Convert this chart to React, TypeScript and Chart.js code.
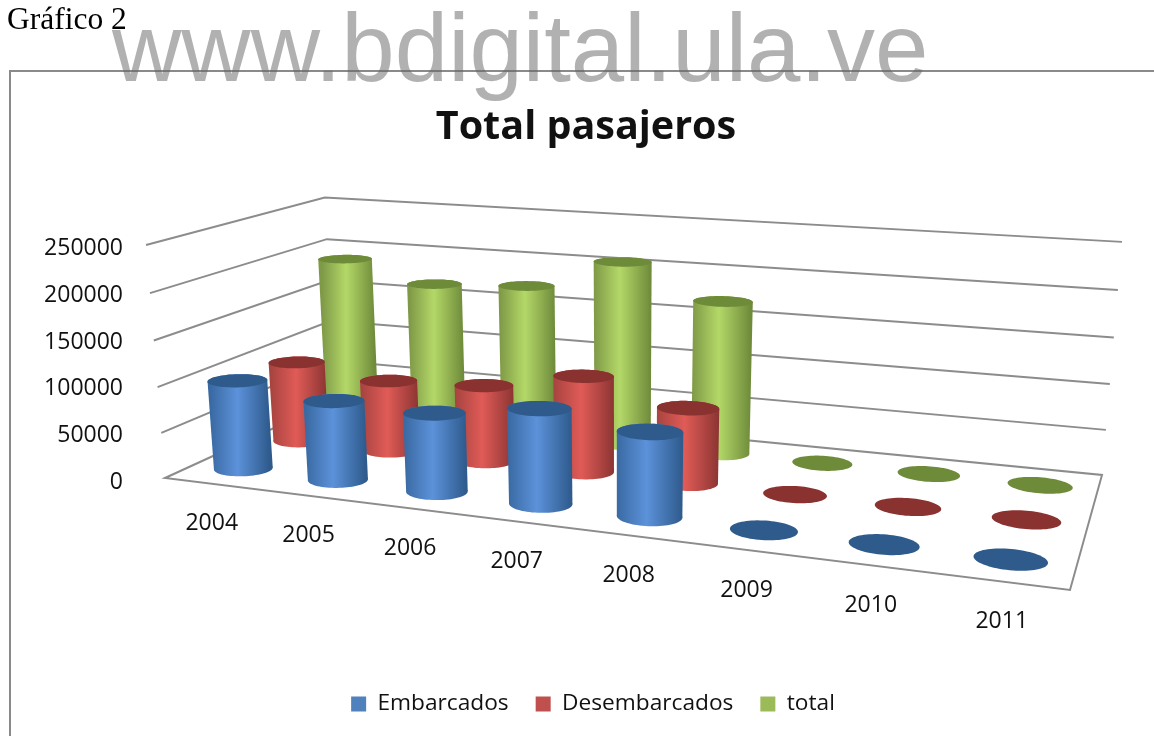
import React, { useEffect, useRef } from "react";
import { Chart, registerables } from "chart.js";

Chart.register(...registerables);

const categories = ["2004", "2005", "2006", "2007", "2008", "2009", "2010", "2011"];
const embarcados = [98000, 86500, 84500, 100500, 88000, 0, 0, 0];
const desembarcados = [91500, 80000, 85000, 105500, 81500, 0, 0, 0];
const total = [189000, 167000, 172500, 207000, 171000, 0, 0, 0];
const yTickStep = 50000;
const yMax = 250000;

const legendColors = ["#4F81BD", "#C0504D", "#9BBB59"];
const capColors = ["#2F5A8C", "#8A3230", "#6E8B3A"];
const bodyStops = [
  ["#3A6AA3", "#5C92DA", "#2E5A8C"],
  ["#A84440", "#E05B57", "#8C3533"],
  ["#7F9A47", "#B4D868", "#6E8A3A"],
];
const FONT = "'Open Sans', 'Noto Sans', sans-serif";

// Frame of the 3D box (front-left, front-right, back-right, back-left floor corners)
const p0 = [165, 478], p1 = [1070, 590], p2 = [1102, 475], p3 = [335, 400];
const vanish = [621, 6078];
const frontLeftTopY = 245;
const heightSlopeU = -0.16, heightSlopeV = 0.16;
const spacingBend = 0.02;

function makeProjector() {
  const sx = p0[0] - p1[0] + p2[0] - p3[0], sy = p0[1] - p1[1] + p2[1] - p3[1];
  const dx1 = p1[0] - p2[0], dx2 = p3[0] - p2[0], dy1 = p1[1] - p2[1], dy2 = p3[1] - p2[1];
  const den = dx1 * dy2 - dx2 * dy1;
  const g = (sx * dy2 - dx2 * sy) / den, h = (dx1 * sy - sx * dy1) / den;
  const a = p1[0] - p0[0] + g * p1[0], b = p3[0] - p0[0] + h * p3[0], c = p0[0];
  const d = p1[1] - p0[1] + g * p1[1], e = p3[1] - p0[1] + h * p3[1], f = p0[1];
  const C = (frontLeftTopY - p0[1]) / (vanish[1] - frontLeftTopY);
  return (u: number, v: number, w: number): [number, number] => {
    const z = g * u + h * v + 1;
    const px = (a * u + b * v + c) / z, py = (d * u + e * v + f) / z;
    const zh = 1 + heightSlopeU * u + heightSlopeV * v;
    const t = (w * C) / (zh + w * C);
    return [px + (vanish[0] - px) * t, py + (vanish[1] - py) * t];
  };
}
const project = makeProjector();
const bend = (u: number) => u + spacingBend * u * (1 - u);

const boxPlugin = {
  id: "box3d",
  afterLayout(chart: any) {
    const t = chart.titleBlock;
    if (t) {
      t.top = 128 - t.height / 2;
      t.left += 24; t.right += 24;
    }
    const l = chart.legend;
    if (l) {
      const fs = l.options.labels.font.size;
      l.top = 704 - l.options.labels.padding - fs / 2;
      l.bottom = l.top + l.height;
      l.left += 31; l.right += 31;
    }
  },
  beforeDatasetsDraw(chart: any) {
    const { ctx } = chart;
    const y = chart.scales.y;
    const H = y.getPixelForValue(0) - y.getPixelForValue(yMax);
    ctx.save();
    ctx.strokeStyle = "#8C8C8C";
    ctx.lineWidth = 2;
    ctx.lineJoin = "miter";
    for (const tick of y.ticks) {
      const w = (y.getPixelForValue(0) - y.getPixelForValue(tick.value)) / H;
      ctx.beginPath();
      ctx.moveTo(...project(0, 0, w));
      ctx.lineTo(...project(0, 1, w));
      ctx.lineTo(...project(1, 1, w));
      if (w === 0) {
        ctx.lineTo(...project(1, 0, 0));
        ctx.closePath();
      }
      ctx.stroke();
    }
    ctx.restore();
  },
  beforeDatasetDraw(chart: any, args: any) {
    const { ctx, chartArea } = chart;
    const idx = args.index;
    const meta = chart.getDatasetMeta(idx);
    const y = chart.scales.y;
    const H = y.getPixelForValue(0) - y.getPixelForValue(yMax);
    const depth = (idx + 0.5) / 3;
    const ru = 0.035, rv = 0.08;
    ctx.save();
    meta.data.forEach((el: any) => {
      const u = bend((el.x - chartArea.left) / chartArea.width);
      const w = (el.base - el.y) / H;
      const disc = (ww: number) => {
        const pts: [number, number][] = [];
        for (let k = 0; k < 72; k++) {
          const t = (k / 72) * Math.PI * 2;
          pts.push(project(u + ru * Math.cos(t), depth + rv * Math.sin(t), ww));
        }
        return pts;
      };
      const fillPts = (pts: [number, number][]) => {
        ctx.beginPath();
        pts.forEach((p, i) => (i ? ctx.lineTo(p[0], p[1]) : ctx.moveTo(p[0], p[1])));
        ctx.closePath();
        ctx.fill();
      };
      const top = disc(w);
      if (w > 0) {
        const base = disc(0);
        const ext = (pts: [number, number][]) => {
          let l = pts[0], r = pts[0];
          for (const p of pts) {
            if (p[0] < l[0]) l = p;
            if (p[0] > r[0]) r = p;
          }
          return [l, r];
        };
        const [bl, br] = ext(base);
        const [tl, tr] = ext(top);
        const grad = ctx.createLinearGradient((bl[0] + tl[0]) / 2, 0, (br[0] + tr[0]) / 2, 0);
        const s = bodyStops[idx];
        grad.addColorStop(0, s[0]);
        grad.addColorStop(0.45, s[1]);
        grad.addColorStop(1, s[2]);
        ctx.fillStyle = grad;
        fillPts(base);
        fillPts([tl, bl, br, tr]);
        fillPts(top);
      }
      ctx.fillStyle = capColors[idx];
      fillPts(top);
    });
    ctx.restore();
    return false;
  },
  afterDatasetsDraw(chart: any) {
    const { ctx, chartArea } = chart;
    const x = chart.scales.x;
    ctx.save();
    ctx.font = `23px ${FONT}`;
    ctx.fillStyle = "#111111";
    ctx.textAlign = "center";
    ctx.textBaseline = "middle";
    categories.forEach((label, i) => {
      const u = bend((x.getPixelForValue(i) - chartArea.left) / chartArea.width);
      const p = project(u, 0, 0);
      ctx.fillText(label, p[0], p[1] + 40);
    });
    ctx.restore();
  },
};

export default function App() {
  const ref = useRef<HTMLCanvasElement>(null);
  useEffect(() => {
    document.body.style.margin = "0";
    const chart = new Chart(ref.current!, {
      type: "bar",
      data: {
        labels: categories,
        datasets: [
          { label: "Embarcados", data: embarcados, backgroundColor: legendColors[0], grouped: false } as any,
          { label: "Desembarcados", data: desembarcados, backgroundColor: legendColors[1], grouped: false } as any,
          { label: "total", data: total, backgroundColor: legendColors[2], grouped: false } as any,
        ],
      },
      options: {
        animation: false,
        responsive: false,
        layout: { padding: { top: 201, left: 0, right: 30, bottom: 194 } },
        scales: {
          x: { display: false },
          y: {
            min: 0,
            max: yMax,
            afterFit: (s: any) => { s.width = 123; },
            grid: { display: false, drawTicks: false },
            border: { display: false },
            ticks: {
              stepSize: yTickStep,
              padding: 0,
              color: "#111111",
              font: { family: FONT, size: 23 },
              callback: (v: any) => String(v),
            },
          },
        },
        plugins: {
          title: {
            display: true,
            text: "Total pasajeros",
            color: "#111111",
            padding: 0,
            font: { family: FONT, size: 39.5, weight: "bold" },
          },
          legend: {
            position: "bottom",
            labels: {
              boxWidth: 15,
              boxHeight: 15,
              padding: 27,
              color: "#111111",
              font: { family: FONT, size: 22.7 },
            },
          },
          tooltip: { enabled: false },
        },
      },
      plugins: [boxPlugin],
    } as any);
    return () => chart.destroy();
  }, []);

  return (
    <div style={{ position: "fixed", left: 0, top: 0, width: 1154, height: 736, overflow: "hidden", background: "#fff" }}>
      <div style={{ position: "absolute", left: 9, top: 70, width: 1300, height: 800, borderLeft: "2px solid #8A8A8A", borderTop: "2px solid #8A8A8A" }} />
      <canvas ref={ref} width={1154} height={736} style={{ position: "absolute", left: 0, top: 0, display: "block" }} />
      <div style={{ position: "absolute", left: 7, top: 1, fontFamily: "'Liberation Serif', serif", fontSize: 31.5, lineHeight: "36px", color: "#000", whiteSpace: "nowrap" }}>Gráfico 2</div>
      <div style={{ position: "absolute", left: 112, top: -7, fontFamily: "'Liberation Sans', sans-serif", fontSize: 96, lineHeight: "110px", color: "rgba(100,100,100,0.5)", whiteSpace: "nowrap" }}>www.bdigital.ula.ve</div>
    </div>
  );
}
